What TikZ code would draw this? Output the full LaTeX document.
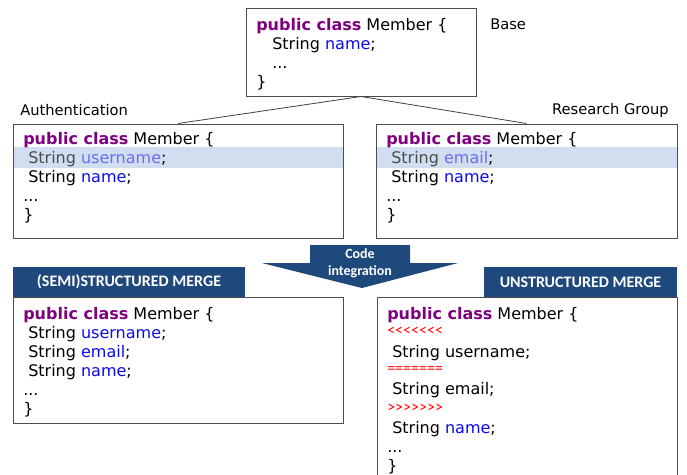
\documentclass[tikz,border=0pt]{standalone}
\usepackage{fontspec}
\setmainfont{DejaVu Sans}
\newfontfamily\hdfont{Carlito}
\usetikzlibrary{positioning, fit}
\definecolor{kwpurple}{RGB}{127, 0, 127}
\definecolor{idblue}{RGB}{10, 10, 240}
\definecolor{hlblue}{RGB}{208, 222, 240}
\definecolor{hdblue}{RGB}{31, 73, 125}
\definecolor{mkred}{RGB}{255, 0, 0}
\newcommand{\kw}[1]{\textcolor{kwpurple}{\textbf{#1}}}
\newcommand{\fld}[1]{\textcolor{idblue}{#1}}
\newcommand{\hlfld}[1]{\textcolor{idblue!60!white}{#1}}
\tikzset{
    codebox/.style={draw=black!70, line width=0.75pt, inner sep=0pt},
    codeline/.style={anchor=base west, inner sep=0pt, font=\fontsize{12}{14}\selectfont},
    marker/.style={codeline, text=mkred, font=\hdfont\fontsize{12}{14}\selectfont},
    tabhead/.style={fill=hdblue, inner sep=0pt},
    tabtext/.style={text=white, inner sep=0pt, font=\hdfont\bfseries\fontsize{12}{14}\selectfont},
    caption/.style={inner sep=0pt, font=\fontsize{11}{13}\selectfont},
    link/.style={draw=black!75, line width=0.6pt}
}

\begin{document}
\begin{tikzpicture}[x=0.75pt, y=-0.75pt]
    \useasboundingbox (0,0) rectangle (687,475);

    % base version
    \node[codebox, fit={(246,8) (476,96)}] (base) {};
    \node[caption, anchor=west] (baselbl) at (490,24) {Base};
    \node[codeline] (b1) at (256,30) {\kw{public class} Member \{};
    \node[codeline] (b2) at (272,49) {String \fld{name};};
    \node[codeline] (b3) at (272,68) {...};
    \node[codeline] (b4) at (256,87) {\}};

    % authentication variant
    \node[codebox, fit={(13,124) (343,238)}] (auth) {};
    \node[caption, anchor=west] (authlbl) at (20,110) {Authentication};
    \fill[hlblue] (13.5,147) rectangle (342.5,168);
    \node[codeline] (a1) at (23,144) {\kw{public class} Member \{};
    \node[codeline] (a2) at (28,163) {\textcolor{black!70}{String} \hlfld{username};};
    \node[codeline] (a3) at (28,182) {String \fld{name};};
    \node[codeline] (a4) at (23,201) {...};
    \node[codeline] (a5) at (23,220) {\}};

    % research group variant
    \node[codebox, fit={(376,124) (677,238)}] (group) {};
    \node[caption, anchor=east] (grouplbl) at (669,110) {Research Group};
    \fill[hlblue] (376.5,147) rectangle (676.5,168);
    \node[codeline] (r1) at (386,144) {\kw{public class} Member \{};
    \node[codeline] (r2) at (391,163) {\textcolor{black!70}{String} \hlfld{email};};
    \node[codeline] (r3) at (391,182) {String \fld{name};};
    \node[codeline] (r4) at (386,201) {...};
    \node[codeline] (r5) at (386,220) {\}};

    \draw[link] (base.south) -- (auth.north);
    \draw[link] (base.south) -- (group.north);

    % code integration arrow
    \fill[hdblue] (310,245) -- (410,245) -- (410,263) -- (458,263) -- (362,288)
        -- (262,263) -- (310,263) -- cycle;
    \node[tabtext, align=center, font=\hdfont\bfseries\fontsize{10.5}{12.75}\selectfont]
        (integ) at (360,263.5) {Code\\integration};

    % semistructured merge
    \node[tabhead, fit={(13,267) (245,297)}] (semitab) {};
    \node[tabtext] (semititle) at (semitab.center) {(SEMI)STRUCTURED MERGE};
    \node[codebox, fit={(13,297) (343,423)}] (semi) {};
    \node[codeline] (s1) at (23,319) {\kw{public class} Member \{};
    \node[codeline] (s2) at (28,338) {String \fld{username};};
    \node[codeline] (s3) at (28,357) {String \fld{email};};
    \node[codeline] (s4) at (28,376) {String \fld{name};};
    \node[codeline] (s5) at (23,395) {...};
    \node[codeline] (s6) at (23,414) {\}};

    % unstructured merge
    \node[tabhead, fit={(484,267) (677,297)}] (unstab) {};
    \node[tabtext] (unstitle) at (unstab.center) {UNSTRUCTURED MERGE};
    \node[codebox, fit={(377,297) (677,480)}] (unst) {};
    \node[codeline] (u1) at (387,319) {\kw{public class} Member \{};
    \node[marker] (u2) at (387,335) {<<<<<<<};
    \node[codeline] (u3) at (392,357) {String username;};
    \node[marker] (u4) at (387,373) {=======};
    \node[codeline] (u5) at (392,394) {String email;};
    \node[marker] (u6) at (387,412) {>>>>>>>};
    \node[codeline] (u7) at (392,433) {String \fld{name};};
    \node[codeline] (u8) at (387,452) {...};
    \node[codeline] (u9) at (387,471) {\}};
\end{tikzpicture}
\end{document}
